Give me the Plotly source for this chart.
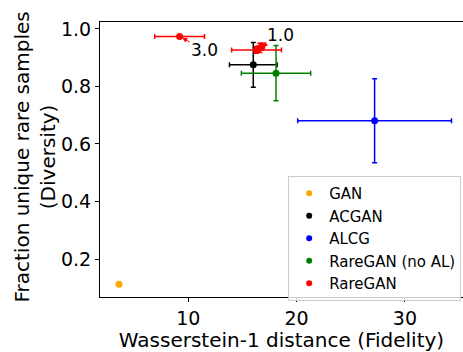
import plotly.graph_objects as go

# ---- data ----
methods = ["GAN", "ACGAN", "ALCG", "RareGAN (no AL)", "RareGAN"]
colors = ["#ffa500", "#000000", "#0000ff", "#008000", "#ff0000"]

gan_x = [3.6]
gan_y = [0.112]
gan_xerr = [0.0]
gan_yerr = [0.0]

acgan_x = [16.0]
acgan_y = [0.875]
acgan_xerr = [2.2]
acgan_yerr = [0.078]

alcg_x = [27.2]
alcg_y = [0.681]
alcg_xerr = [7.1]
alcg_yerr = [0.146]

noal_x = [18.1]
noal_y = [0.846]
noal_xerr = [3.2]
noal_yerr = [0.096]

rare_x = [9.2, 16.3, 16.6, 16.8]
rare_y = [0.974, 0.927, 0.934, 0.940]
rare_xerr = [2.3, 2.3, 0.3, 0.2]
rare_yerr = [0.004, 0.012, 0.016, 0.010]

rare_labels = ["3.0", "1.0"]
rare_label_x = [9.2, 16.6]
rare_label_y = [0.974, 0.934]

x_ticks = [10, 20, 30]
y_ticks = [0.2, 0.4, 0.6, 0.8, 1.0]
y_ticktext = ["0.2", "0.4", "0.6", "0.8", "1.0"]

series = [
    (gan_x, gan_y, gan_xerr, gan_yerr),
    (acgan_x, acgan_y, acgan_xerr, acgan_yerr),
    (alcg_x, alcg_y, alcg_xerr, alcg_yerr),
    (noal_x, noal_y, noal_xerr, noal_yerr),
    (rare_x, rare_y, rare_xerr, rare_yerr),
]

FONT = "DejaVu Sans"
fig = go.Figure()

for name, col, (xs, ys, xe, ye) in zip(methods, colors, series):
    has_err = any(v > 0 for v in xe)
    fig.add_trace(go.Scatter(
        x=xs, y=ys, mode="markers", showlegend=False, name=name,
        marker=dict(color=col, size=7),
        error_x=dict(type="data", array=xe, visible=has_err, color=col, thickness=1.5, width=2.5),
        error_y=dict(type="data", array=ye, visible=has_err, color=col, thickness=1.5, width=2.5),
    ))

# legend-only entries (marker dots)
for name, col in zip(methods, colors):
    fig.add_trace(go.Scatter(
        x=[None], y=[None], mode="markers", name=name,
        marker=dict(color=col, size=6),
    ))

offsets = [(25, 14), (21, -13)]
for txt, lx, ly, (axo, ayo) in zip(rare_labels, rare_label_x, rare_label_y, offsets):
    fig.add_annotation(
        x=lx, y=ly, text=txt, showarrow=True, ax=axo, ay=ayo,
        arrowhead=2, arrowsize=1, arrowwidth=1, arrowcolor="#ff0000",
        standoff=3, font=dict(family=FONT, size=17, color="#000000"),
    )

# y-axis title as a two-line rotated label
fig.add_annotation(
    xref="paper", yref="paper", x=0, y=0.5, xshift=-66, yshift=2,
    xanchor="center", yanchor="middle", textangle=-90, showarrow=False,
    text="Fraction unique rare samples<br>(Diversity)",
    font=dict(family=FONT, size=20, color="#000000"),
)

fig.update_layout(
    width=463, height=352,
    margin=dict(l=100, r=0, t=22, b=55),
    paper_bgcolor="white", plot_bgcolor="white",
    font=dict(family=FONT, size=16, color="#000000"),
    legend=dict(
        x=0.995, y=0.44, xanchor="right", yanchor="top",
        bgcolor="rgba(255,255,255,0.8)", bordercolor="#cccccc", borderwidth=1,
        font=dict(family=FONT, size=15), itemwidth=30, tracegroupgap=0,
    ),
)

fig.update_xaxes(
    range=[1.85, 35.36], tickvals=x_ticks, showgrid=False, zeroline=False,
    showline=True, linecolor="#000000", linewidth=1, mirror=True,
    ticks="outside", ticklen=4, tickcolor="#000000",
    tickfont=dict(family=FONT, size=19),
    title=dict(text="Wasserstein-1 distance (Fidelity)", font=dict(family=FONT, size=20), standoff=2),
)
fig.update_yaxes(
    range=[0.068, 1.024], tickvals=y_ticks, ticktext=y_ticktext,
    showgrid=False, zeroline=False,
    showline=True, linecolor="#000000", linewidth=1, mirror=False,
    ticks="outside", ticklen=4, tickcolor="#000000",
    tickfont=dict(family=FONT, size=19),
)

fig.write_html("out.html")
